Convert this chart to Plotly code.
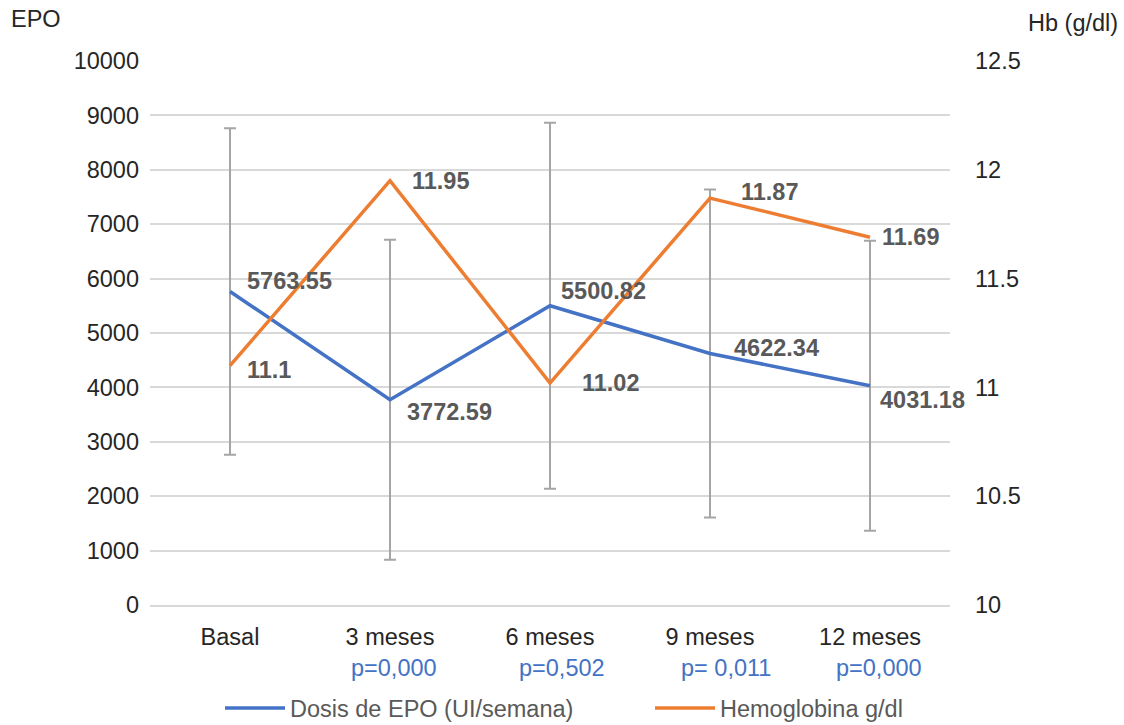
import plotly.graph_objects as go

categories = ["Basal", "3 meses", "6 meses", "9 meses", "12 meses"]
epo_dose = [5763.55, 3772.59, 5500.82, 4622.34, 4031.18]
epo_sd = [3000, 2940, 3365, 3015, 2665]
hemoglobin = [11.1, 11.95, 11.02, 11.87, 11.69]
p_values = ["", "p=0,000", "p=0,502", "p= 0,011", "p=0,000"]

# label offsets (px) for the value labels of each series
epo_label_dx = [15, 15, 9, 22, 8]
epo_label_dy = [10, -12, 15, 6, -14]
hb_label_dx = [15, 20, 30, 29, 10]
hb_label_dy = [-4, 0, 0, 6, 0]
p_label_dx = [0, 4, 12, 16, 9]

BLUE = "#4472C4"
ORANGE = "#ED7D31"
GRID = "#D9D9D9"
LABEL = "#595959"
TEXT = "#262626"
FONT = "Liberation Sans, Arial, sans-serif"
FS = 23.5

fig = go.Figure()
fig.add_trace(go.Scatter(
    x=categories, y=epo_dose, mode="lines", name="Dosis de EPO (UI/semana)",
    line=dict(color=BLUE, width=3.5), legend="legend",
    error_y=dict(type="data", array=epo_sd, visible=True, color="#A5A5A5",
                 thickness=2, width=6),
))
fig.add_trace(go.Scatter(
    x=categories, y=hemoglobin, mode="lines", name="Hemoglobina g/dl",
    line=dict(color=ORANGE, width=3.5), yaxis="y2", legend="legend2",
))

annotations = []
for i, c in enumerate(categories):
    annotations.append(dict(
        x=c, y=epo_dose[i], xref="x", yref="y", text=f"<b>{epo_dose[i]:.2f}</b>",
        showarrow=False, xanchor="left", yanchor="middle",
        xshift=epo_label_dx[i], yshift=epo_label_dy[i],
        font=dict(family=FONT, size=FS, color=LABEL)))
    annotations.append(dict(
        x=c, y=hemoglobin[i], xref="x", yref="y2",
        text=f"<b>{hemoglobin[i]:g}</b>",
        showarrow=False, xanchor="left", yanchor="middle",
        xshift=hb_label_dx[i], yshift=hb_label_dy[i],
        font=dict(family=FONT, size=FS, color=LABEL)))
    if p_values[i]:
        annotations.append(dict(
            x=c, y=0, xref="x", yref="paper", text=p_values[i],
            showarrow=False, xanchor="center", yanchor="middle",
            xshift=p_label_dx[i], yshift=-63,
            font=dict(family=FONT, size=FS, color=BLUE)))

annotations.append(dict(x=0, y=1, xref="paper", yref="paper", text="EPO",
                        showarrow=False, xanchor="left", yanchor="middle",
                        xshift=-141, yshift=42,
                        font=dict(family=FONT, size=FS, color=TEXT)))
annotations.append(dict(x=1, y=1, xref="paper", yref="paper", text="Hb (g/dl)",
                        showarrow=False, xanchor="left", yanchor="middle",
                        xshift=76, yshift=38,
                        font=dict(family=FONT, size=FS, color=TEXT)))

legend_style = dict(orientation="h", yref="container", y=0.023, yanchor="middle",
                    xref="container", xanchor="left", itemwidth=60,
                    bgcolor="rgba(0,0,0,0)",
                    font=dict(family=FONT, size=FS, color=LABEL))

fig.update_layout(
    width=1124, height=725,
    margin=dict(l=150, r=174, t=61, b=120, autoexpand=False),
    plot_bgcolor="white", paper_bgcolor="white",
    font=dict(family=FONT, size=FS, color=TEXT),
    showlegend=True,
    legend=dict(legend_style, x=220 / 1124),
    legend2=dict(legend_style, x=650 / 1124),
    xaxis=dict(type="category", range=[-0.5, 4.5], showgrid=False,
               showline=True, linecolor=GRID, linewidth=1.5, ticks="",
               ticklabelstandoff=10, tickfont=dict(size=FS, color=TEXT)),
    yaxis=dict(range=[0, 10000], dtick=1000, showgrid=True, gridcolor=GRID,
               gridwidth=1.5, zeroline=False, ticks="", ticklabelstandoff=10,
               tickformat="d", tickfont=dict(size=FS, color=TEXT)),
    yaxis2=dict(range=[10, 12.5], dtick=0.5, overlaying="y", side="right",
                showgrid=False, zeroline=False, ticks="", ticklabelstandoff=24,
                tickfont=dict(size=FS, color=TEXT)),
    annotations=annotations,
)

fig.write_html("out.html")
